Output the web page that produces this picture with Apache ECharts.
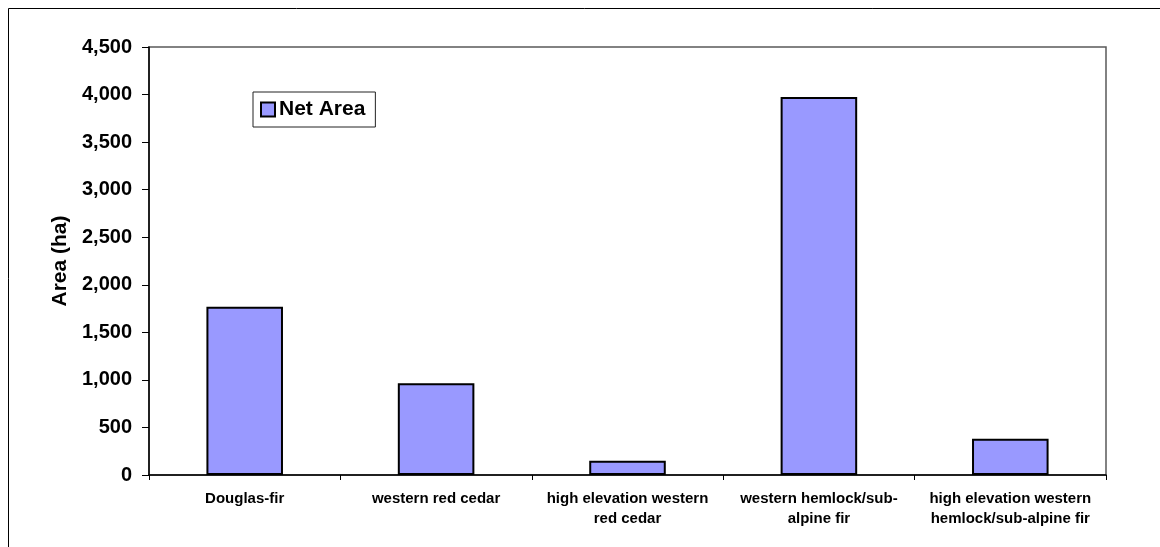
<!DOCTYPE html>
<html>
<head>
<meta charset="utf-8">
<script src="https://cdn.jsdelivr.net/npm/echarts@6/dist/echarts.min.js"></script>
<style>
  html, body { margin: 0; padding: 0; background: #fff; }
  #chart { width: 1160px; height: 547px; }
</style>
</head>
<body>
<div id="chart"></div>
<script>
// Forest types (x-axis categories)
const categories = [
  'Douglas-fir',
  'western red cedar',
  'high elevation western\nred cedar',
  'western hemlock/sub-\nalpine fir',
  'high elevation western\nhemlock/sub-alpine fir'
];
// Net area by forest type, hectares
const netArea = [1770, 965, 150, 3975, 380];
const seriesName = 'Net Area';
const yAxisTitle = 'Area (ha)';
const yMin = 0, yMax = 4500, yStep = 500;

const FONT = '"Liberation Sans", Arial, Helvetica, sans-serif';
const chart = echarts.init(document.getElementById('chart'), null, { renderer: 'canvas' });

chart.setOption({
  backgroundColor: '#ffffff',
  animation: false,
  textStyle: { fontFamily: FONT, color: '#000' },
  graphic: [{
    // outer chart frame
    type: 'rect',
    shape: { x: 8.5, y: 8.5, width: 1300, height: 700 },
    style: { fill: 'none', stroke: '#000', lineWidth: 1 },
    silent: true
  }],
  grid: {
    left: 149, right: 54, top: 47, bottom: 72,
    show: true, borderColor: '#5a5a5a', borderWidth: 1.5, backgroundColor: 'transparent'
  },
  legend: {
    data: [seriesName],
    left: 253, top: 92,
    orient: 'horizontal',
    backgroundColor: '#fff',
    borderColor: '#222',
    borderWidth: 1,
    borderRadius: 0,
    padding: [7, 10, 7, 7],
    itemWidth: 14, itemHeight: 14,
    itemGap: 4,
    icon: 'rect',
    textStyle: { fontFamily: FONT, fontWeight: 'bold', fontSize: 21, color: '#000', padding: [0, 0, 0, -1] }
  },
  xAxis: {
    type: 'category',
    data: categories,
    axisLine: { lineStyle: { color: '#000', width: 1.5 } },
    axisTick: { show: true, alignWithLabel: false, length: 5, lineStyle: { color: '#000' } },
    axisLabel: {
      interval: 0, margin: 14,
      fontFamily: FONT, fontWeight: 'bold', fontSize: 15, lineHeight: 20, color: '#000', align: 'center'
    },
    splitLine: { show: false }
  },
  yAxis: {
    type: 'value',
    min: yMin, max: yMax, interval: yStep,
    name: yAxisTitle,
    nameLocation: 'middle',
    nameGap: 78,
    nameRotate: 90,
    nameTextStyle: { fontFamily: FONT, fontWeight: 'bold', fontSize: 21, color: '#000' },
    axisLine: { show: true, lineStyle: { color: '#000', width: 1.5 } },
    axisTick: { show: true, length: 7, lineStyle: { color: '#000' } },
    axisLabel: {
      margin: 17,
      fontFamily: FONT, fontWeight: 'bold', fontSize: 20, color: '#000',
      formatter: v => v.toLocaleString('en-US')
    },
    splitLine: { show: false }
  },
  series: [{
    name: seriesName,
    type: 'bar',
    data: netArea,
    barWidth: '40%',
    itemStyle: { color: '#9999ff', borderColor: '#000', borderWidth: 2 }
  }]
});
</script>
</body>
</html>
